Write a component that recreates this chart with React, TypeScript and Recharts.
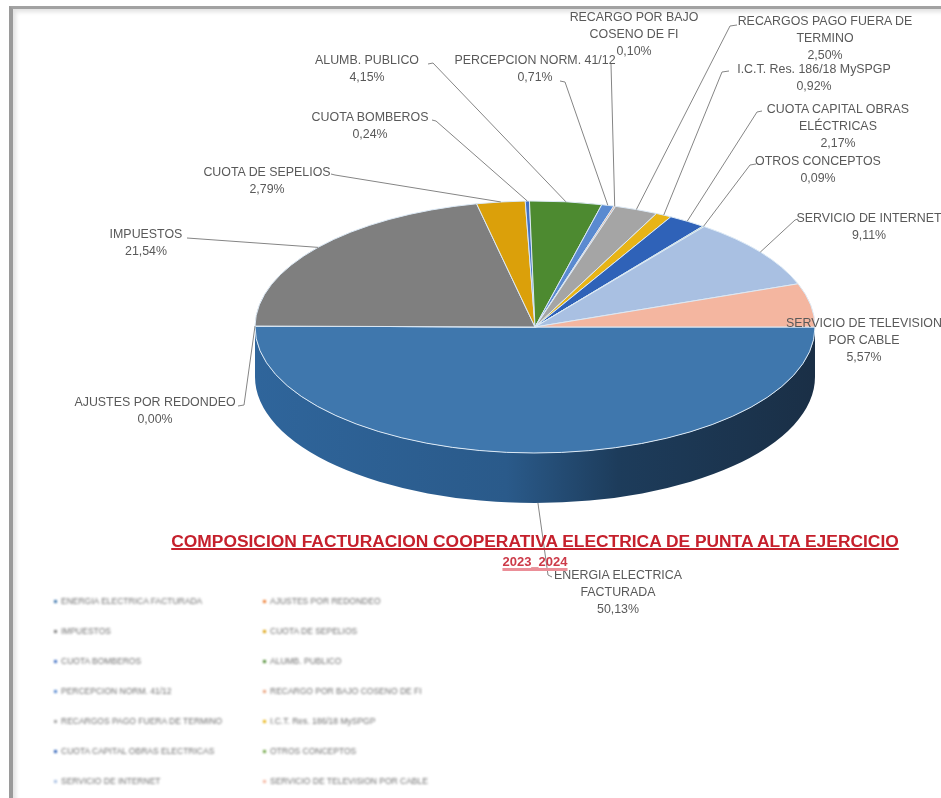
import React from 'react';
import { PieChart, Pie, Legend } from 'recharts';

const CATEGORIES = [
  'ENERGIA ELECTRICA FACTURADA',
  'AJUSTES POR REDONDEO',
  'IMPUESTOS',
  'CUOTA DE SEPELIOS',
  'CUOTA BOMBEROS',
  'ALUMB. PUBLICO',
  'PERCEPCION NORM. 41/12',
  'RECARGO POR BAJO COSENO DE FI',
  'RECARGOS PAGO FUERA DE TERMINO',
  'I.C.T. Res. 186/18 MySPGP',
  'CUOTA CAPITAL OBRAS ELECTRICAS',
  'OTROS CONCEPTOS',
  'SERVICIO DE INTERNET',
  'SERVICIO DE TELEVISION POR CABLE',
];
const VALUES = [50.13, 0.0, 21.54, 2.79, 0.24, 4.15, 0.71, 0.1, 2.5, 0.92, 2.17, 0.09, 9.11, 5.57];
const VALUE_LABELS = ['50,13%', '0,00%', '21,54%', '2,79%', '0,24%', '4,15%', '0,71%', '0,10%', '2,50%', '0,92%', '2,17%', '0,09%', '9,11%', '5,57%'];
const COLORS = ['#3f77ad', '#ed7d31', '#7f7f7f', '#dba00a', '#4472c4', '#4d8a30', '#5a8ad0', '#e9a27c', '#a5a5a5', '#e8b416', '#2f62b8', '#6fa544', '#a9c0e2', '#f4b6a0'];

const LABEL_LINES = [
  ['ENERGIA ELECTRICA', 'FACTURADA'],
  ['AJUSTES POR REDONDEO'],
  ['IMPUESTOS'],
  ['CUOTA DE SEPELIOS'],
  ['CUOTA BOMBEROS'],
  ['ALUMB. PUBLICO'],
  ['PERCEPCION NORM. 41/12'],
  ['RECARGO POR BAJO', 'COSENO DE FI'],
  ['RECARGOS PAGO FUERA DE', 'TERMINO'],
  ['I.C.T. Res. 186/18 MySPGP'],
  ['CUOTA CAPITAL OBRAS', 'ELÉCTRICAS'],
  ['OTROS CONCEPTOS'],
  ['SERVICIO DE INTERNET'],
  ['SERVICIO DE TELEVISION', 'POR CABLE'],
];

// label placement: text centre x, first line y, and the leader's elbow points
const LABEL_PLACES: { x: number; y: number; elbow: number[][] }[] = [
  { x: 618, y: 575, elbow: [[548, 575], [552, 577]] },
  { x: 155, y: 402, elbow: [[244, 405], [238, 406]] },
  { x: 146, y: 234, elbow: [[187, 238]] },
  { x: 267, y: 172, elbow: [[335, 175], [331, 174]] },
  { x: 370, y: 117, elbow: [[436, 121], [432, 120]] },
  { x: 367, y: 60, elbow: [[433, 63], [428, 64]] },
  { x: 535, y: 60, elbow: [[565, 82], [560, 81]] },
  { x: 634, y: 17, elbow: [[611, 64]] },
  { x: 825, y: 21, elbow: [[730, 26], [737, 25]] },
  { x: 814, y: 69, elbow: [[722, 72], [729, 71]] },
  { x: 838, y: 109, elbow: [[757, 112], [762, 111]] },
  { x: 818, y: 161, elbow: [[750, 165], [756, 164]] },
  { x: 869, y: 218, elbow: [[795, 220], [798, 219]] },
  { x: 864, y: 323, elbow: [] },
];

const pieData = CATEGORIES.map((name, i) => ({ name, value: VALUES[i], fill: COLORS[i] }));

const SQUASH = 126 / 280;
const DEPTH = 50;
const RAD = Math.PI / 180;
const TEXT_COLOR = '#595959';

const onEllipse = (cx: number, cy: number, r: number, deg: number) => ({
  x: cx + r * Math.cos(deg * RAD),
  y: cy - r * SQUASH * Math.sin(deg * RAD),
});

// recharts only draws round pies, so the sectors are flattened here
const TopSector = (props: any) => {
  const { cx, cy, outerRadius, startAngle, endAngle, fill } = props;
  const a = onEllipse(cx, cy, outerRadius, startAngle);
  const b = onEllipse(cx, cy, outerRadius, endAngle);
  const large = Math.abs(startAngle - endAngle) > 180 ? 1 : 0;
  const d = `M${cx},${cy} L${a.x},${a.y} A${outerRadius},${outerRadius * SQUASH} 0 ${large} 1 ${b.x},${b.y} Z`;
  return <path d={d} fill={fill} stroke="#dce9f5" strokeWidth={1} strokeLinejoin="round" />;
};

// side wall, only the front half of the pie can be seen
const WallSector = (props: any) => {
  const { cx, cy, outerRadius, startAngle, endAngle } = props;
  const from = Math.min(startAngle, 0);
  const to = Math.max(endAngle, -180);
  if (from <= to) return <g />;
  const a = onEllipse(cx, cy, outerRadius, from);
  const b = onEllipse(cx, cy, outerRadius, to);
  const ry = outerRadius * SQUASH;
  const d = `M${a.x},${a.y} A${outerRadius},${ry} 0 0 1 ${b.x},${b.y} L${b.x},${b.y + DEPTH} A${outerRadius},${ry} 0 0 0 ${a.x},${a.y + DEPTH} Z`;
  return <path d={d} fill="url(#wallShade)" />;
};

const SliceLabel = (props: any) => {
  const { cx, cy, outerRadius, midAngle, index } = props;
  const place = LABEL_PLACES[index];
  const lines = [...LABEL_LINES[index], VALUE_LABELS[index]];
  // energia's leader hangs from the bottom of the wall
  const edge = onEllipse(cx, cy, outerRadius, midAngle);
  const startY = index === 0 ? edge.y + DEPTH : edge.y;
  const startX = index === 0 ? edge.x + 4 : edge.x;
  const points = [[startX, startY], ...place.elbow].map((p) => p.join(',')).join(' ');
  return (
    <g>
      {place.elbow.length > 0 && <polyline points={points} fill="none" stroke="#858585" strokeWidth={1} />}
      {lines.map((line, i) => (
        <text key={line} x={place.x} y={place.y + i * 17} dy={4} textAnchor="middle" fontSize={12.4} fill={TEXT_COLOR}>
          {line}
        </text>
      ))}
    </g>
  );
};

const LegendGrid = () => (
  <div style={{ display: 'grid', gridTemplateColumns: '209px 209px', rowGap: 0, filter: 'blur(1px)' }}>
    {pieData.map((d) => (
      <div key={d.name} style={{ height: 30, fontSize: 8.5, color: '#6f6f6f', whiteSpace: 'nowrap', display: 'flex', alignItems: 'center', gap: 4 }}>
        <span style={{ width: 3, height: 3, background: d.fill, flex: 'none' }} />
        {d.name}
      </div>
    ))}
  </div>
);

export default function App() {
  return (
    <div style={{ position: 'absolute', left: 0, top: 0, width: 941, height: 798, overflow: 'hidden', background: '#fff', fontFamily: '"Liberation Sans", Arial, sans-serif' }}>
      <div style={{ position: 'absolute', left: 9, top: 6, width: 932, height: 792, borderLeft: '4px solid #9a9a9a', borderTop: '3px solid #a2a2a2', boxShadow: 'inset 3px 3px 4px #e2e2e2' }} />
      <div style={{ position: 'absolute', left: 0, top: 0, filter: 'blur(0.45px)' }}>
        <PieChart width={941} height={798} margin={{ top: 0, right: 0, bottom: 0, left: 0 }}>
          <defs>
            <linearGradient id="wallShade" x1="255" y1="0" x2="814" y2="0" gradientUnits="userSpaceOnUse">
              <stop offset="0" stopColor="#2f659b" />
              <stop offset="0.45" stopColor="#2a5a8a" />
              <stop offset="0.65" stopColor="#1d3c5b" />
              <stop offset="1" stopColor="#1a2f46" />
            </linearGradient>
          </defs>
          <Pie
            data={pieData}
            dataKey="value"
            nameKey="name"
            cx={535}
            cy={327}
            outerRadius={280}
            startAngle={0}
            endAngle={-360}
            legendType="none"
            shape={WallSector}
            label={false}
            labelLine={false}
            isAnimationActive={false}
          />
          <Pie
            data={pieData}
            dataKey="value"
            nameKey="name"
            cx={535}
            cy={327}
            outerRadius={280}
            startAngle={0}
            endAngle={-360}
            shape={TopSector}
            label={SliceLabel}
            labelLine={false}
            isAnimationActive={false}
          />
          <Legend content={LegendGrid} layout="horizontal" align="center" verticalAlign="middle" wrapperStyle={{ left: 54, top: 586, width: 420 }} />
        </PieChart>
      </div>
      <div style={{ position: 'absolute', left: 100, top: 531, width: 870, textAlign: 'center', fontWeight: 700, fontSize: 17.4, color: '#c5202c', textDecoration: 'underline', textDecorationThickness: 2, whiteSpace: 'nowrap', filter: 'blur(0.4px)' }}>
        COMPOSICION FACTURACION COOPERATIVA ELECTRICA DE PUNTA ALTA EJERCICIO
      </div>
      <div style={{ position: 'absolute', left: 435, top: 554, width: 200, textAlign: 'center', fontWeight: 700, fontSize: 13, color: '#cc3a48', textDecoration: 'underline', textDecorationColor: '#eb8f98', textDecorationThickness: 3, filter: 'blur(0.7px)' }}>
        2023_2024
      </div>
    </div>
  );
}
